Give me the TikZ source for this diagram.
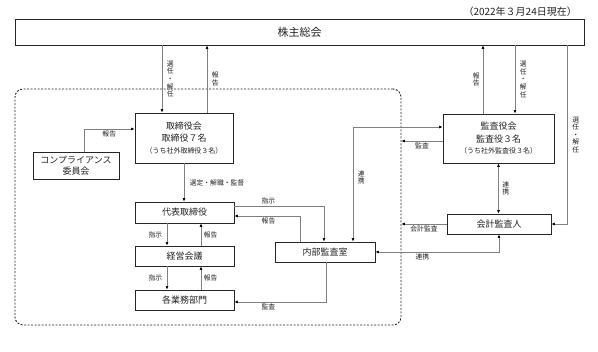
\documentclass[tikz,border=0pt]{standalone}
\usepackage{fontspec}
\setmainfont{Noto Sans CJK JP}
\usetikzlibrary{positioning, arrows.meta, calc}
\definecolor{linegray}{HTML}{808080}
\definecolor{textgray}{HTML}{222222}

\begin{document}
\begin{tikzpicture}[x=1pt, y=-1pt, >={Latex[length=3.5pt, width=3pt, color=black]},
  box/.style={draw=black!85, line width=0.9pt, align=center, text=textgray, inner sep=0pt, font=\fontsize{9}{12.5}\selectfont},
  conn/.style={draw=linegray, line width=0.6pt},
  lbl/.style={font=\fontsize{6.8}{7.6}\selectfont, text=textgray, inner sep=1.5pt},
  vlbl/.style={lbl, align=center}]
\useasboundingbox (0,0) rectangle (598,352);

\node (grp) [draw=black!85, line width=0.9pt, dash pattern=on 2pt off 1.5pt, rounded corners=8pt, minimum width=386pt, minimum height=236pt] at (208,207) {};
\node (date) [anchor=east, text=textgray, inner sep=0pt, font=\fontsize{10}{12}\selectfont] at (577,12) {（2022年３月24日現在）};
\node (kabunushi) [box, minimum width=569pt, minimum height=26pt, font=\fontsize{11}{13}\selectfont] at (299.5,32) {株主総会};
\node (torishimari) [box, minimum width=98pt, minimum height=50pt] at (184,138) {取締役会\\取締役７名\\[-1pt]{\fontsize{7}{9}\selectfont（うち社外取締役３名）}};
\node (comp) [box, minimum width=86pt, minimum height=27pt, font=\fontsize{9}{11}\selectfont] at (76,165.5) {コンプライアンス\\委員会};
\node (daihyo) [box, minimum width=99pt, minimum height=21pt] at (184.5,212.5) {代表取締役};
\node (keiei) [box, minimum width=99pt, minimum height=20pt] at (184.5,256) {経営会議};
\node (gyomu) [box, minimum width=99pt, minimum height=20pt] at (184.5,300) {各業務部門};
\node (naibu) [box, minimum width=100pt, minimum height=20pt] at (325,252) {内部監査室};
\node (kansayaku) [box, minimum width=111pt, minimum height=49pt] at (498.5,138.5) {監査役会\\監査役３名\\[-1pt]{\fontsize{7}{9}\selectfont（うち社外監査役３名）}};
\node (kaikei) [box, minimum width=104pt, minimum height=20pt] at (499,224) {会計監査人};

\draw[conn, ->] ([xshift=-22pt]torishimari.north |- kabunushi.south) -- node[vlbl, right=3pt] {選\\任\\・\\解\\任} ([xshift=-22pt]torishimari.north);
\draw[conn, ->] ([xshift=23pt]torishimari.north) -- node[vlbl, right=3pt] {報\\告} ([xshift=23pt]torishimari.north |- kabunushi.south);
\draw[conn, ->] ([xshift=-15.5pt]kansayaku.north) -- node[vlbl, left=1.5pt] {報\\告} ([xshift=-15.5pt]kansayaku.north |- kabunushi.south);
\draw[conn, ->] ([xshift=16.5pt]kansayaku.north |- kabunushi.south) -- node[vlbl, right=3pt] {選\\任\\・\\解\\任} ([xshift=16.5pt]kansayaku.north);
\draw[conn, ->] ([xshift=16pt]kaikei.east |- kabunushi.south) |- node[vlbl, pos=0.25, right=3pt] {選\\任\\・\\解\\任} (kaikei.east);
\draw[conn, ->] ([xshift=8pt]comp.north) |- node[lbl, pos=0.75, below] {報告} ([yshift=9pt]torishimari.west);
\draw[conn, ->] (torishimari.south) -- node[lbl, right=4pt] {選定・解職・監督} (torishimari.south |- daihyo.north);
\draw[conn, ->] ([xshift=-17.5pt]daihyo.south) -- node[lbl, left=3pt] {指示} ([xshift=-17.5pt]keiei.north);
\draw[conn, ->] ([xshift=16.5pt]keiei.north) -- node[lbl, right=1pt] {報告} ([xshift=16.5pt]daihyo.south);
\draw[conn, ->] ([xshift=-17.5pt]keiei.south) -- node[lbl, left=3pt] {指示} ([xshift=-17.5pt]gyomu.north);
\draw[conn, ->] ([xshift=16.5pt]gyomu.north) -- node[lbl, right=1pt] {報告} ([xshift=16.5pt]keiei.south);
\draw[conn, ->] ([yshift=6.5pt]daihyo.east) -| node[lbl, pos=0.19, above] {指示} ([xshift=-1pt]naibu.north);
\draw[conn, ->] ([xshift=-25pt]naibu.north) |- node[lbl, pos=0.74, below] {報告} ([yshift=-3.5pt]daihyo.east);
\draw[conn, ->] ([xshift=1pt]naibu.south) |- node[lbl, pos=0.815, below] {監査} ([yshift=-2pt]gyomu.east);
\draw[conn, <->] ([xshift=28pt]naibu.north) |- node[vlbl, pos=0.28, right=3pt] {連\\携} ([yshift=11.5pt]kansayaku.west);
\draw[conn, ->] ([yshift=-2.5pt]kansayaku.west) -- node[lbl, below] {監査} ([yshift=-2.5pt]kansayaku.west -| grp.east);
\draw[conn, <->] (kansayaku.south) -- node[vlbl, right=2pt] {連\\携} (kansayaku.south |- kaikei.north);
\draw[conn, ->] (kaikei.west) -- node[lbl, below] {会計監査} (kaikei.west -| grp.east);
\draw[conn, <->] (kaikei.south) |- node[lbl, pos=0.81, below] {連携} (naibu.east);
\end{tikzpicture}
\end{document}
